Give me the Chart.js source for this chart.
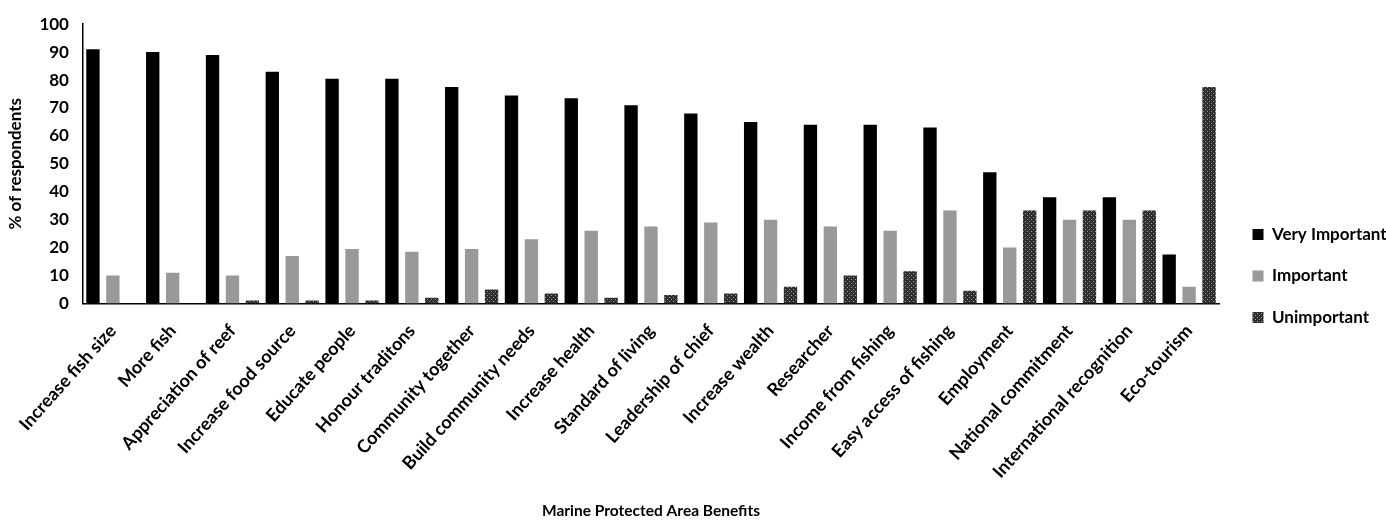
<!DOCTYPE html>
<html>
<head>
<meta charset="utf-8">
<script src="https://cdn.jsdelivr.net/npm/chart.js@4.4.0/dist/chart.umd.min.js"></script>
<style>
  html, body { margin: 0; padding: 0; background: #fff; }
  #wrap { width: 1386px; height: 522px; position: relative; }
</style>
</head>
<body>
<div id="wrap"><canvas id="c"></canvas></div>
<script>
const categories = [
  "Increase fish size", "More fish", "Appreciation of reef", "Increase food source",
  "Educate people", "Honour traditons", "Community together", "Build community needs",
  "Increase health", "Standard of living", "Leadership of chief", "Increase wealth",
  "Researcher", "Income from fishing", "Easy access of fishing", "Employment",
  "National commitment", "International recognition", "Eco-tourism"
];
const veryImportant = [91, 90, 89, 83, 80.5, 80.5, 77.5, 74.5, 73.5, 71, 68, 65, 64, 64, 63, 47, 38, 38, 17.5];
const important     = [10, 11, 10, 17, 19.5, 18.5, 19.5, 23, 26, 27.5, 29, 30, 27.5, 26, 33.3, 20, 30, 30, 6];
const unimportant   = [0, 0, 1, 1, 1, 2, 5, 3.5, 2, 3, 3.5, 6, 10, 11.5, 4.5, 33.3, 33.3, 33.3, 77.5];
const yTicks = [0, 10, 20, 30, 40, 50, 60, 70, 80, 90, 100];

function makePattern() {
  const p = document.createElement('canvas');
  p.width = 4; p.height = 4;
  const g = p.getContext('2d');
  g.fillStyle = '#2e2e2e';
  g.fillRect(0, 0, 4, 4);
  g.fillStyle = '#9a9a9a';
  g.fillRect(1, 1, 1, 1);
  g.fillRect(3, 3, 1, 1);
  return g.createPattern(p, 'repeat');
}
const pat = makePattern();

const FONT = 'Lato, "Open Sans", sans-serif';

const legendShift = {
  id: 'legendShift',
  afterLayout(chart) {
    const l = chart.legend;
    if (l) { l.top += 14; l.bottom += 14; l.left += 9; l.right += 9; }
  }
};

new Chart(document.getElementById('c'), {
  type: 'bar',
  data: {
    labels: categories,
    datasets: [
      { label: 'Very Important', data: veryImportant, backgroundColor: '#000000' },
      { label: 'Important', data: important, backgroundColor: '#999999' },
      { label: 'Unimportant', data: unimportant, backgroundColor: pat }
    ]
  },
  options: {
    responsive: true,
    maintainAspectRatio: false,
    animation: false,
    layout: { padding: { top: 4, left: 5, right: 0, bottom: 2 } },
    datasets: { bar: { categoryPercentage: 1.0, barPercentage: 0.67 } },
    plugins: {
      tooltip: { enabled: false },
      legend: {
        position: 'right',
        maxWidth: 167,
        labels: {
          color: '#000',
          boxWidth: 11,
          boxHeight: 11,
          padding: 24.5,
          font: { family: FONT, size: 17, weight: 'bold' }
        }
      }
    },
    scales: {
      x: {
        grid: { display: false, drawTicks: false },
        border: { display: true, color: '#000', width: 1.5 },
        ticks: {
          color: '#000',
          maxRotation: 48,
          minRotation: 48,
          padding: 17,
          autoSkip: false,
          font: { family: FONT, size: 18, weight: 'bold' }
        },
        title: {
          display: true,
          text: 'Marine Protected Area Benefits',
          color: '#000',
          padding: { top: 2, bottom: 0 },
          font: { family: FONT, size: 15.5, weight: 'bold' }
        }
      },
      y: {
        min: 0,
        max: 100,
        afterBuildTicks(axis) { axis.ticks = yTicks.map(v => ({ value: v })); },
        grid: { display: false, drawTicks: false },
        border: { display: true, color: '#000', width: 1.5 },
        ticks: {
          color: '#000',
          padding: 14,
          font: { family: FONT, size: 17, weight: 'bold' }
        },
        title: {
          display: true,
          text: '% of respondents',
          color: '#000',
          padding: { top: 0, bottom: 0 },
          font: { family: FONT, size: 17, weight: 'bold' }
        }
      }
    }
  },
  plugins: [legendShift]
});
</script>
</body>
</html>
